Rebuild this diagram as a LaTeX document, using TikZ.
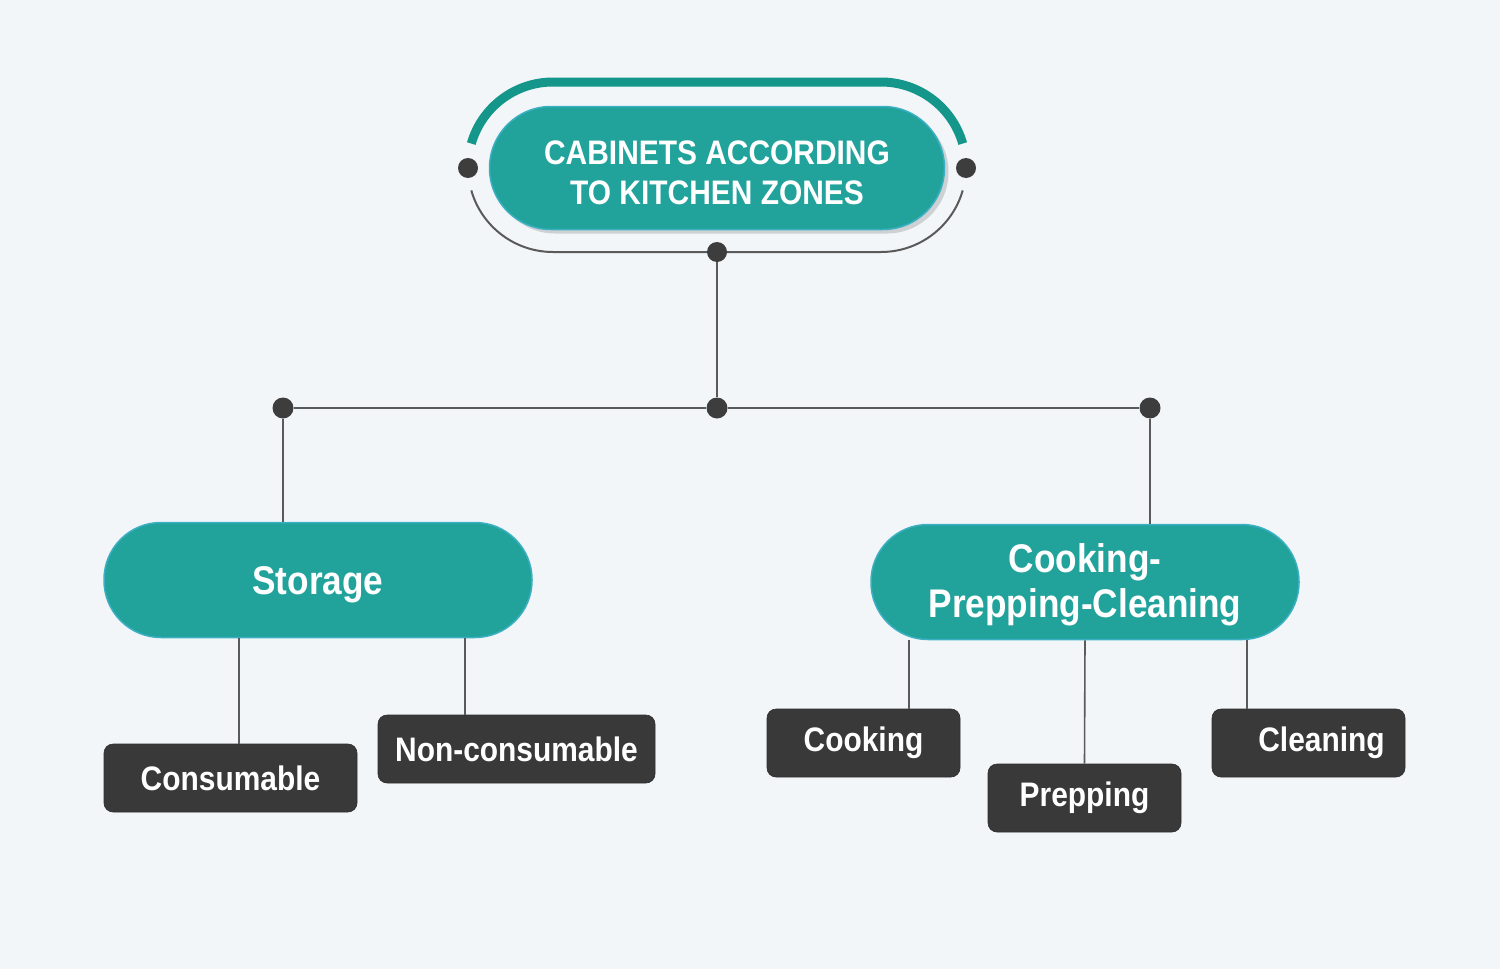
\documentclass[tikz,border=0pt]{standalone}
\usepackage{fontspec}
\setmainfont{Liberation Sans}[FakeStretch=0.88]
\usetikzlibrary{shadows,calc}
\definecolor{bg}{HTML}{F2F6F9}
\definecolor{teal1}{HTML}{21A39C}
\definecolor{tealedge}{HTML}{3CB0C2}
\definecolor{tealarc}{HTML}{14978A}
\definecolor{darkbox}{HTML}{393939}
\definecolor{linec}{HTML}{5A5A5A}
\definecolor{dotc}{HTML}{3D3D3D}
\newcommand{\downtext}[2]{\raisebox{-#1}[0pt][0pt]{\begin{tabular}{@{}c@{}}#2\end{tabular}}}
\begin{document}
\begin{tikzpicture}[x=1pt,y=1pt,
  pill/.style={draw=tealedge, line width=1.5pt, fill=teal1, text=white, font=\bfseries,
    align=center, inner sep=0pt},
  darkbox/.style={fill=darkbox, draw=darkbox!80!black, line width=0.6pt, rounded corners=9pt, text=white,
    font=\bfseries\fontsize{34}{40}\selectfont, minimum width=193pt, minimum height=68pt, inner sep=0pt},
  conn/.style={draw=linec, line width=1.6pt},
  dot/.style={fill=dotc, circle, minimum size=20pt, inner sep=0pt}]
\useasboundingbox[fill=bg] (0,0) rectangle (1500,-969);

% ring around top node
\draw[tealarc, line width=9pt]
  ($(553,-167)+(164:85)$) arc[start angle=164, end angle=90, radius=85]
  -- (881,-82) arc[start angle=90, end angle=16, radius=85];
\draw[linec, line width=2pt]
  ($(553,-167)+(196:85)$) arc[start angle=196, end angle=270, radius=85]
  -- (881,-252) arc[start angle=270, end angle=344, radius=85];

% top node
\node[pill, minimum width=455pt, minimum height=123pt, rounded corners=61.5pt,
  drop shadow={shadow xshift=4pt, shadow yshift=-4pt, opacity=0.25, fill=black!60},
  font=\bfseries\fontsize{34}{40}\selectfont] (top) at (717,-168)
  {\downtext{14.5pt}{CABINETS ACCORDING\\TO KITCHEN ZONES}};

% dots
\node[dot] (dl0) at (468,-168) {};
\node[dot] (dr0) at (966,-168) {};
\node[dot] (d0) at (717,-252) {};
\node[dot, minimum size=21pt] (d1) at (717,-408) {};
\node[dot, minimum size=21pt] (dl) at (283,-408) {};
\node[dot, minimum size=21pt] (dr) at (1150,-408) {};

% level 2
\node[pill, minimum width=428pt, minimum height=115pt, rounded corners=57pt,
  font=\bfseries\fontsize{40}{45}\selectfont] (storage) at (318,-580) {\downtext{11.8pt}{Storage}};
\node[pill, minimum width=428pt, minimum height=115pt, rounded corners=57pt,
  font=\bfseries\fontsize{40}{45}\selectfont] (cpc) at (1085,-582) {\downtext{10.3pt}{Cooking-\\Prepping-Cleaning}};

% level 3
\node[darkbox, minimum width=253pt] (cons) at (230.5,-778) {Consumable};
\node[darkbox, minimum width=277pt] (noncons) at (516.5,-749) {Non-consumable};
\node[darkbox] (cook) at (863.5,-743) {Cooking};
\node[darkbox] (prep) at (1084.5,-798) {Prepping};
\node[darkbox] (clean) at (1308.5,-743) {\hspace*{26pt}Cleaning};

% connectors
\draw[conn] (d0) -- (d1);
\draw[conn] (dl) -- (d1) -- (dr);
\draw[conn] (dl) -- (dl |- storage.north);
\draw[conn] (dr) -- (dr |- cpc.north);
\draw[conn] (239,0 |- storage.south) -- (239,0 |- cons.north);
\draw[conn] (465,0 |- storage.south) -- (465,0 |- noncons.north);
\draw[conn] (909,0 |- cpc.south) -- (909,0 |- cook.north);
\draw[conn] (cpc.south) -- (prep.north);
\draw[conn] (1247,0 |- cpc.south) -- (1247,0 |- clean.north);
\end{tikzpicture}
\end{document}
